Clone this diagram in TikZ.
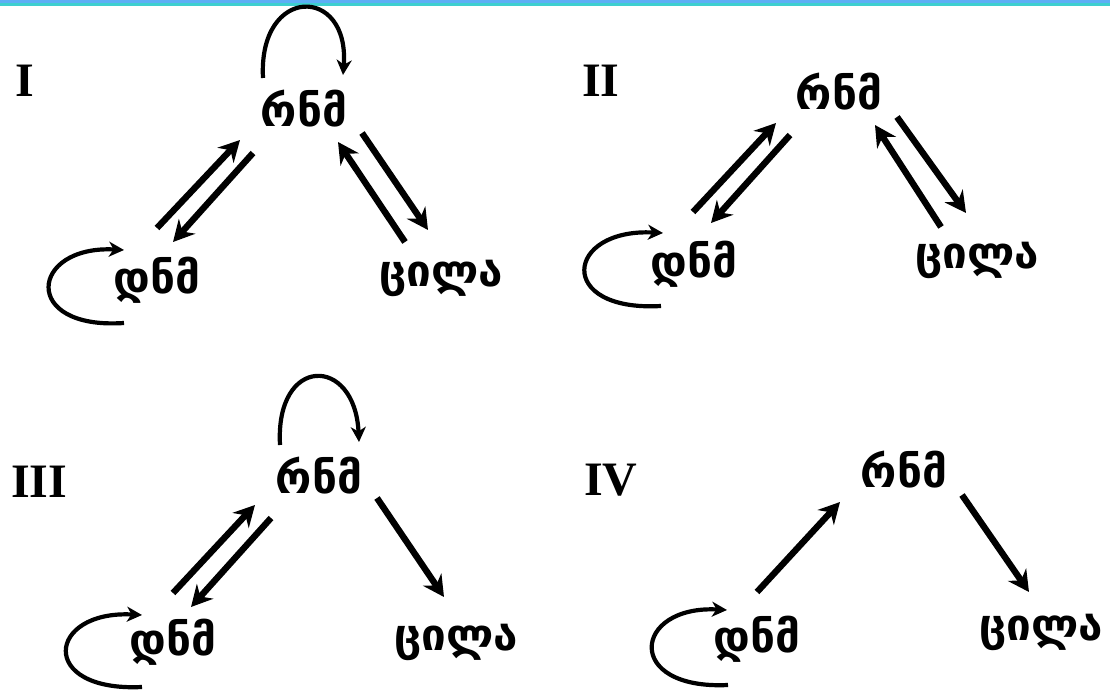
\documentclass[tikz,border=0pt]{standalone}
\usepackage{fontspec}
\usetikzlibrary{arrows.meta}
\newfontfamily\geo{DejaVu Sans}
\newfontfamily\romfont{Liberation Serif}
\definecolor{barblue}{HTML}{5DAEF5}
\definecolor{barteal}{HTML}{3DCFCF}
\begin{document}
\begin{tikzpicture}[x=1pt,y=-1pt,
  lbl/.style={inner sep=0pt,anchor=base,font=\geo\bfseries\fontsize{44}{44}\selectfont},
  num/.style={inner sep=0pt,anchor=base west,font=\romfont\bfseries\fontsize{48}{48}\selectfont},
  arr/.style={line width=6.4pt,-{Stealth[length=21pt,width=22pt,inset=7pt]}},
  loopy/.style={line width=4.2pt,-{Stealth[length=15pt,width=15pt,inset=4.5pt]}}]
\useasboundingbox (0,0) rectangle (1110,690);
\fill[white] (0,0) rectangle (1110,690);
\fill[barblue] (0,0) rectangle (1110,3.5);
\fill[barteal] (0,3.5) rectangle (1110,6.5);

% ---------- Panel I ----------
\node[num] (n1) at (15,97) {I};
\node[lbl] (R1) at (304,127) {რნმ};
\node[lbl] (D1) at (157,293) {დნმ};
\node[lbl] (C1) at (441,286) {ცილა};
\coordinate (r1la) at (263,78); \coordinate (r1lb) at (343,75);
\draw[loopy] (r1la) .. controls (258,-15) and (350,-15) .. (r1lb);
\coordinate (d1la) at (124,323); \coordinate (d1lb) at (124,250);
\draw[loopy] (d1la) .. controls (20,330) and (30,245) .. (d1lb);
\coordinate (a1) at (157,228); \coordinate (a2) at (240,140);
\draw[arr] (a1) -- (a2);
\coordinate (a3) at (253,153); \coordinate (a4) at (173,242);
\draw[arr] (a3) -- (a4);
\coordinate (a5) at (405,242); \coordinate (a6) at (338,142);
\draw[arr] (a5) -- (a6);
\coordinate (a7) at (362,133); \coordinate (a8) at (428,230);
\draw[arr] (a7) -- (a8);

% ---------- Panel II ----------
\node[num] (n2) at (582,97) {II};
\node[lbl] (R2) at (839,110) {რნმ};
\node[lbl] (D2) at (694,277) {დნმ};
\node[lbl] (C2) at (977,268) {ცილა};
\coordinate (d2la) at (661,306); \coordinate (d2lb) at (663,233);
\draw[loopy] (d2la) .. controls (555,312) and (565,228) .. (d2lb);
\coordinate (b1) at (693,212); \coordinate (b2) at (776,123);
\draw[arr] (b1) -- (b2);
\coordinate (b3) at (790,135); \coordinate (b4) at (711,223);
\draw[arr] (b3) -- (b4);
\coordinate (b5) at (941,227); \coordinate (b6) at (875,125);
\draw[arr] (b5) -- (b6);
\coordinate (b7) at (897,117); \coordinate (b8) at (966,213);
\draw[arr] (b7) -- (b8);

% ---------- Panel III ----------
\node[num] (n3) at (11,497) {III};
\node[lbl] (R3) at (319,493) {რნმ};
\node[lbl] (D3) at (173,655) {დნმ};
\node[lbl] (C3) at (456,650) {ცილა};
\coordinate (r3la) at (280,445); \coordinate (r3lb) at (359,442);
\draw[loopy] (r3la) .. controls (275,355) and (355,355) .. (r3lb);
\coordinate (d3la) at (142,687); \coordinate (d3lb) at (142,615);
\draw[loopy] (d3la) .. controls (37,692) and (47,610) .. (d3lb);
\coordinate (c1) at (173,593); \coordinate (c2) at (255,505);
\draw[arr] (c1) -- (c2);
\coordinate (c3) at (271,518); \coordinate (c4) at (191,607);
\draw[arr] (c3) -- (c4);
\coordinate (c5) at (377,498); \coordinate (c6) at (444,597);
\draw[arr] (c5) -- (c6);

% ---------- Panel IV ----------
\node[num] (n4) at (584,495) {IV};
\node[lbl] (R4) at (904,487) {რნმ};
\node[lbl] (D4) at (757,652) {დნმ};
\node[lbl] (C4) at (1041,640) {ცილა};
\coordinate (d4la) at (728,685); \coordinate (d4lb) at (727,610);
\draw[loopy] (d4la) .. controls (623,690) and (633,605) .. (d4lb);
\coordinate (e1) at (757,592); \coordinate (e2) at (840,502);
\draw[arr] (e1) -- (e2);
\coordinate (e3) at (962,495); \coordinate (e4) at (1029,592);
\draw[arr] (e3) -- (e4);
\end{tikzpicture}
\end{document}
